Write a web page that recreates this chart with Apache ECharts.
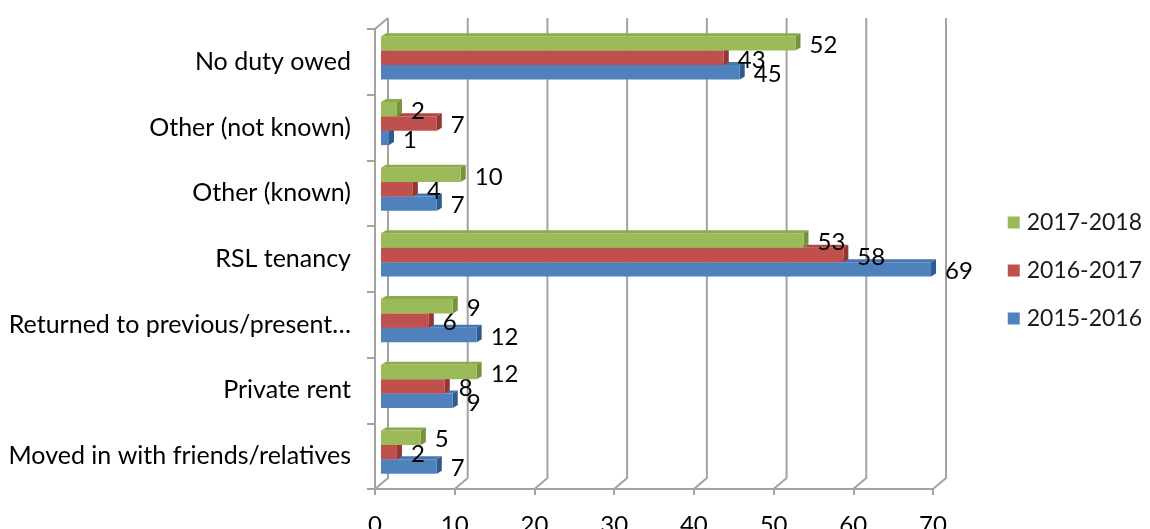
<!DOCTYPE html>
<html>
<head>
<meta charset="utf-8">
<script src="https://cdn.jsdelivr.net/npm/echarts@6/dist/echarts.min.js"></script>
<style>
  html, body { margin: 0; padding: 0; background: #fff; }
  #chart { width: 1150px; height: 529px; }
</style>
</head>
<body>
<div id="chart"></div>
<script>
// Outcome categories, top to bottom
const categories = [
  'No duty owed',
  'Other (not known)',
  'Other (known)',
  'RSL tenancy',
  'Returned to previous/present\u2026',
  'Private rent',
  'Moved in with friends/relatives'
];

// Values per year, in category order
const values2017_18 = [52, 2, 10, 53, 9, 12, 5];
const values2016_17 = [43, 7, 4, 58, 6, 8, 2];
const values2015_16 = [45, 1, 7, 69, 12, 9, 7];

const seriesNames = ['2017-2018', '2016-2017', '2015-2016'];
const xTicks = [0, 10, 20, 30, 40, 50, 60, 70];

// Bar face colours: front, top, side
const palette = [
  { front: '#9BBB59', top: '#8DAB4E', side: '#76923C' },
  { front: '#C0504D', top: '#AE4744', side: '#943634' },
  { front: '#4F81BD', top: '#4775AD', side: '#2E5A8E' }
];

const FONT = 'Lato, "Liberation Sans", sans-serif';
const WALL = { dx: 13, dy: -11 };      // depth of the back wall
const BAR_SHIFT = 6;                   // bars sit halfway into the depth
const BAR_D = { dx: 5, dy: 3 };        // oblique depth of each bar's top/side face
const GRID_COLOR = '#A3A3A3';

function gridRenderer(params, api) {
  const cs = params.coordSys;
  const v = api.value(0);
  const x = api.coord([v, 0])[0];
  const bottom = cs.y + cs.height;
  const top = cs.y;
  const children = [{
    type: 'polyline',
    shape: { points: [[x, bottom], [x + WALL.dx, bottom + WALL.dy], [x + WALL.dx, top + WALL.dy]] },
    style: { stroke: GRID_COLOR, lineWidth: 2, fill: null }
  }];
  if (v === 0) {
    children.push({
      type: 'line',
      shape: { x1: x, y1: top, x2: x + WALL.dx, y2: top + WALL.dy },
      style: { stroke: GRID_COLOR, lineWidth: 2 }
    });
  }
  return { type: 'group', children: children };
}

function barRenderer(slot) {
  return function (params, api) {
    const v = api.value(0);
    const c = api.value(1);
    const p0 = api.coord([0, c]);
    const p1 = api.coord([v, c]);
    const band = api.size([0, 1])[1];
    const pitch = band * 0.219;
    const frontTop = p0[1] - band * 0.39;
    const dx = BAR_D.dx, dy = BAR_D.dy;
    const xs = p0[0] + BAR_SHIFT;
    const xe = p1[0] + BAR_SHIFT;
    const fy0 = frontTop + slot * pitch;
    const fy1 = fy0 + pitch;
    const col = palette[slot];
    return {
      type: 'group',
      children: [
        {
          type: 'polygon',
          shape: { points: [[xs, fy0], [xs + dx, fy0 - dy], [xe + dx, fy0 - dy], [xe, fy0]] },
          style: { fill: col.top }
        },
        {
          type: 'polygon',
          shape: { points: [[xe, fy0], [xe + dx, fy0 - dy], [xe + dx, fy1 - dy], [xe, fy1]] },
          style: { fill: col.side }
        },
        {
          type: 'rect',
          shape: { x: xs, y: fy0, width: Math.max(xe - xs, 0), height: fy1 - fy0 },
          style: { fill: col.front }
        },
        {
          type: 'text',
          style: {
            x: xe + 14,
            y: (fy0 + fy1) / 2 + 2,
            text: String(v),
            fill: '#000',
            font: '24px ' + FONT,
            textAlign: 'left',
            textVerticalAlign: 'middle'
          },
          z2: 10
        }
      ]
    };
  };
}

function toData(vals) {
  return vals.map((v, i) => [v, i]);
}

const chart = echarts.init(document.getElementById('chart'), null, { renderer: 'canvas' });

chart.setOption({
  animation: false,
  backgroundColor: '#fff',
  grid: { left: 375, top: 29, width: 558, height: 460, outerBoundsMode: 'none', containLabel: false },
  legend: {
    orient: 'vertical',
    right: 3,
    top: 206,
    itemWidth: 12,
    itemHeight: 12,
    itemGap: 25,
    icon: 'rect',
    data: seriesNames,
    textStyle: { fontSize: 23, fontFamily: FONT, color: '#1a1a1a', padding: [0, 0, 0, 2] }
  },
  xAxis: {
    type: 'value',
    min: 0,
    max: 70,
    interval: 10,
    axisLine: { show: true, lineStyle: { color: GRID_COLOR, width: 2 } },
    axisTick: { show: true, length: 6, lineStyle: { color: GRID_COLOR, width: 2 } },
    axisLabel: { fontSize: 24, fontFamily: FONT, color: '#000', margin: 24 },
    splitLine: { show: false }
  },
  yAxis: {
    type: 'category',
    inverse: true,
    data: categories,
    axisLine: { show: true, lineStyle: { color: GRID_COLOR, width: 2 } },
    axisTick: { show: true, length: 8, lineStyle: { color: GRID_COLOR, width: 2 } },
    axisLabel: { fontSize: 25, fontFamily: FONT, color: '#000', margin: 24 },
    splitLine: { show: false }
  },
  series: [
    {
      name: 'walls',
      type: 'custom',
      silent: true,
      clip: false,
      z: 1,
      renderItem: gridRenderer,
      encode: { x: 0 },
      data: xTicks.map(t => [t])
    },
    // The upper bar of each group is drawn last so it hides the top faces below it
    {
      name: seriesNames[2],
      type: 'custom',
      clip: false,
      z: 3,
      itemStyle: { color: palette[2].front },
      renderItem: barRenderer(2),
      encode: { x: 0, y: 1 },
      data: toData(values2015_16)
    },
    {
      name: seriesNames[1],
      type: 'custom',
      clip: false,
      z: 4,
      itemStyle: { color: palette[1].front },
      renderItem: barRenderer(1),
      encode: { x: 0, y: 1 },
      data: toData(values2016_17)
    },
    {
      name: seriesNames[0],
      type: 'custom',
      clip: false,
      z: 5,
      itemStyle: { color: palette[0].front },
      renderItem: barRenderer(0),
      encode: { x: 0, y: 1 },
      data: toData(values2017_18)
    }
  ]
});
</script>
</body>
</html>
